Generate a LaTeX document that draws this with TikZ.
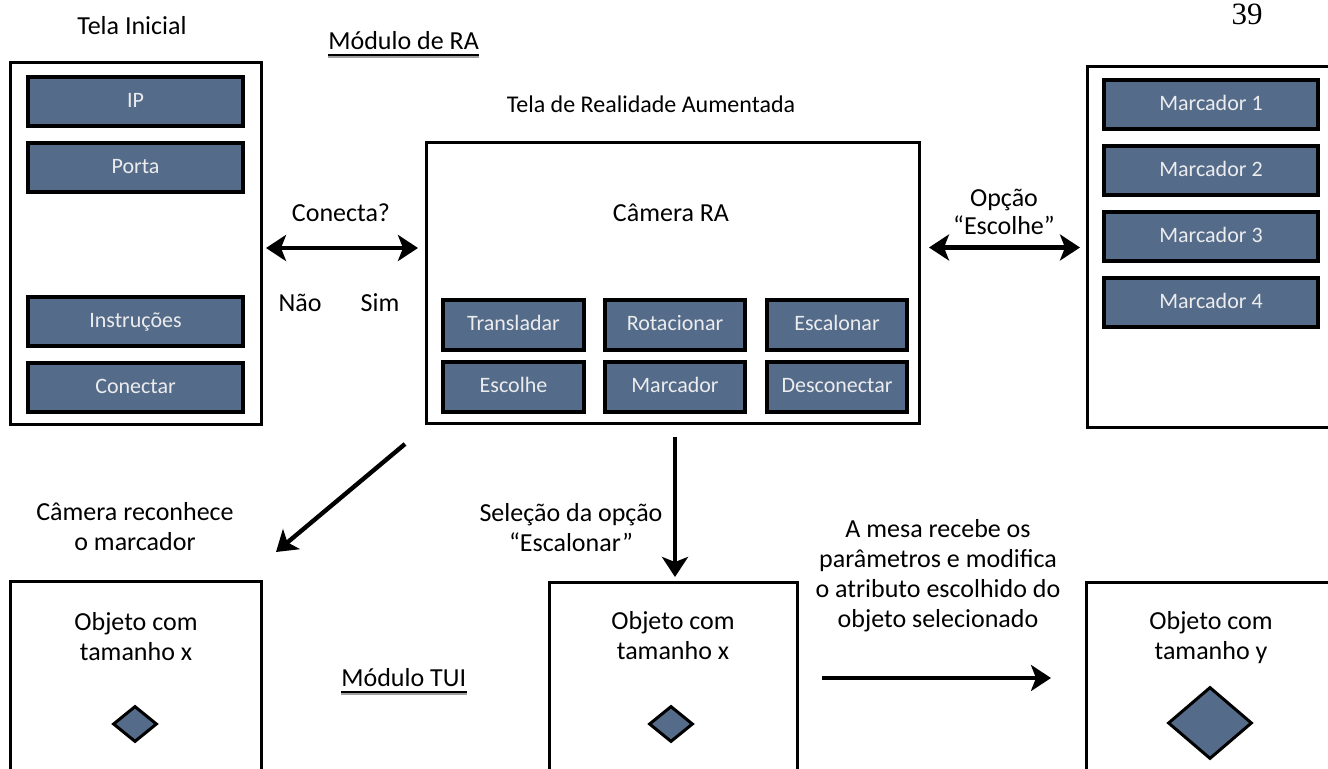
\documentclass[tikz,border=0pt]{standalone}
\usepackage{fontspec}
\setmainfont{Carlito}
\newfontfamily\pagenumfont{Liberation Serif}
\usetikzlibrary{arrows.meta,fit,calc,shapes.geometric}
\definecolor{btnblue}{RGB}{84,108,138}
\definecolor{btntext}{RGB}{236,236,238}
\definecolor{ulshadow}{RGB}{160,160,160}

\begin{document}
\begin{tikzpicture}[x=0.5pt,y=-0.5pt,
  screen/.style={draw, line width=1.5pt, inner sep=0pt, outer sep=0pt},
  btn/.style={draw, line width=1.8pt, fill=btnblue, inner sep=0pt, outer sep=0pt},
  btnlbl/.style={text=btntext, inner sep=0pt, text height=1.55ex, text depth=0.35ex,
    font=\fontsize{11}{12}\selectfont},
  lbl/.style={font=\fontsize{13}{15}\selectfont, anchor=base, inner sep=0pt},
  tip/.tip={Stealth[length=10pt,width=13pt,inset=2.5pt]},
  flow/.style={line width=2.2pt, -tip},
  both/.style={line width=2.2pt, tip-tip},
  obj/.style={diamond, draw, line width=1.5pt, fill=btnblue, inner sep=0pt},
  uline/.style={line width=0.7pt},
  ushade/.style={line width=1pt, ulshadow},
]
\useasboundingbox (0,0) rectangle (1328,769);
\clip (0,0) rectangle (1328,769);

% page number
\node[font=\pagenumfont\fontsize{15.5}{16}\selectfont, anchor=base, inner sep=0pt] (pg) at (1247,25) {39};

% ---------- Módulo de RA ----------
\node[lbl] (tTI) at (132,35) {Tela Inicial};
\node[lbl, anchor=base west] (tRA) at (328,50) {Módulo de RA};
\draw[ushade] ($(tRA.base west)+(0,7)$) -- ($(tRA.base east)+(0,7)$);
\draw[uline] ($(tRA.base west)+(0,5)$) -- ($(tRA.base east)+(0,5)$);

% initial screen
\node[screen, fit={(10,63) (261,425)}] (ti) {};
\node[btn, fit={(28,77) (243,126)}] (ip) {};
\node[btnlbl] at (ip) {IP};
\node[btn, fit={(28,143) (243,192)}] (porta) {};
\node[btnlbl] at (porta) {Porta};
\node[btn, fit={(28,297) (243,346)}] (instr) {};
\node[btnlbl] at (instr) {Instruções};
\node[btn, fit={(28,363) (243,412)}] (conectar) {};
\node[btnlbl] at (conectar) {Conectar};

% augmented reality screen
\node[lbl, font=\fontsize{12}{14}\selectfont] (tTRA) at (651,113) {Tela de Realidade Aumentada};
\node[screen, fit={(426,143) (919,424)}] (ra) {};
\node[lbl] (cam) at (671,222) {Câmera RA};
\node[btn, fit={(443,300) (584,350)}] (transl) {};
\node[btnlbl] at (transl) {Transladar};
\node[btn, fit={(605,300) (745,350)}] (rot) {};
\node[btnlbl] at (rot) {Rotacionar};
\node[btn, fit={(767,300) (907,350)}] (escal) {};
\node[btnlbl] at (escal) {Escalonar};
\node[btn, fit={(443,362) (584,412)}] (escol) {};
\node[btnlbl] at (escol) {Escolhe};
\node[btn, fit={(605,362) (745,412)}] (marc) {};
\node[btnlbl] at (marc) {Marcador};
\node[btn, fit={(767,362) (907,412)}] (desc) {};
\node[btnlbl] at (desc) {Desconectar};

% marker list screen
\node[screen, fit={(1087,67) (1360,428)}] (rb) {};
\node[btn, fit={(1104,80) (1318,129)}] (m1) {};
\node[btnlbl] at (m1) {Marcador 1};
\node[btn, fit={(1104,146) (1318,195)}] (m2) {};
\node[btnlbl] at (m2) {Marcador 2};
\node[btn, fit={(1104,212) (1318,261)}] (m3) {};
\node[btnlbl] at (m3) {Marcador 3};
\node[btn, fit={(1104,278) (1318,327)}] (m4) {};
\node[btnlbl] at (m4) {Marcador 4};

% connection between initial screen and AR screen
\coordinate (rowA) at (0,248);
\draw[both] ($(ti.east |- rowA)+(5,0)$) -- ($(ra.west |- rowA)+(-8,0)$);
\node[lbl] (conecta) at (341,222) {Conecta?};
\node[lbl] (nao) at (300,312) {Não};
\node[lbl] (sim) at (380,312) {Sim};

% connection between AR screen and marker list
\draw[both] ($(ra.east |- rb.west)+(10,0)$) -- ($(rb.west)+(-7,0)$);
\node[lbl] (opcao) at (1004,207) {Opção};
\node[lbl] (escolhe) at (1004,235) {“Escolhe”};

% ---------- Módulo TUI ----------
\node[screen, fit={(10,582) (261,800)}] (bl) {};
\node[lbl] (bl1) at (136,631) {Objeto com};
\node[lbl] (bl2) at (136,661) {tamanho x};
\node[obj, minimum width=22pt, minimum height=18pt] (dl) at (135,724) {};

\node[lbl, anchor=base west] (tTUI) at (341,687) {Módulo TUI};
\draw[ushade] ($(tTUI.base west)+(0,7)$) -- ($(tTUI.base east)+(0,7)$);
\draw[uline] ($(tTUI.base west)+(0,5)$) -- ($(tTUI.base east)+(0,5)$);

\node[screen, fit={(549,583) (797,800)}] (bm) {};
\node[lbl] (bm1) at (673,630) {Objeto com};
\node[lbl] (bm2) at (673,660) {tamanho x};
\node[obj, minimum width=22pt, minimum height=18pt] (dm) at (671,724) {};

\node[screen, fit={(1086,583) (1360,800)}] (br) {};
\node[lbl] (br1) at (1211,630) {Objeto com};
\node[lbl] (br2) at (1211,660) {tamanho y};
\node[obj, minimum width=42pt, minimum height=36pt] (dr) at (1210,723) {};

% camera recognises the marker
\draw[flow] ($(ra.south west)+(-21,20)$) -- ($(bl.north east)+(15,-30)$);
\node[lbl] (cr1) at (135,521) {Câmera reconhece};
\node[lbl] (cr2) at (135,551) {o marcador};

% option selection
\draw[flow] ($(ra.south)+(2.5,13)$) -- ($(ra.south |- bm.north)+(2.5,-6)$);
\node[lbl] (se1) at (571,522) {Seleção da opção};
\node[lbl] (se2) at (571,552) {“Escalonar”};

% table applies the parameters
\coordinate (rowB) at (0,678);
\draw[flow] ($(bm.east |- rowB)+(25,0)$) -- ($(br.west |- rowB)+(-35,0)$);
\node[lbl] (me1) at (938,538) {A mesa recebe os};
\node[lbl] (me2) at (938,568) {parâmetros e modifica};
\node[lbl] (me3) at (938,598) {o atributo escolhido do};
\node[lbl] (me4) at (938,628) {objeto selecionado};
\end{tikzpicture}
\end{document}
